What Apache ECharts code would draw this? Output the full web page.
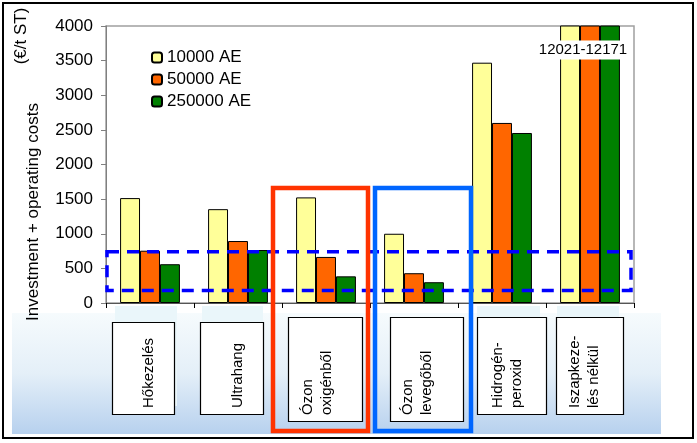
<!DOCTYPE html>
<html><head><meta charset="utf-8">
<script src="https://cdn.jsdelivr.net/npm/echarts@6/dist/echarts.min.js"></script>
<style>html,body{margin:0;padding:0;background:#fff}#c{width:697px;height:443px}</style>
</head><body><div id="c"></div>
<script>
const categories = ['Hőkezelés', 'Ultrahang', 'Ózon\noxigénből', 'Ózon\nlevegőből', 'Hidrogén-\nperoxid', 'Iszapkeze-\nlés nélkül'];
const seriesNames = ['10000 AE', '50000 AE', '250000 AE'];
const s10000 = [1515, 1355, 1525, 1000, 3470, 12171];
const s50000 = [755, 895, 665, 430, 2600, 12100];
const s250000 = [560, 765, 385, 300, 2455, 12021];
const yTicks = {min: 0, max: 4000, interval: 500};
const bandValues = [740, 180];
const offChartLabel = '12021-12171';

const FONT = 'Liberation Sans, Arial, sans-serif';
const colors = ['#FFFF99', '#FF6600', '#008000'];
const chart = echarts.init(document.getElementById('c'), null, {renderer: 'canvas'});
const mk = (name, data, i) => ({
  name, type: 'bar', data, clip: true, barGap: '0%', barCategoryGap: '32%',
  itemStyle: {color: colors[i], borderColor: '#000', borderWidth: 1},
  emphasis: {disabled: true}, z: 5
});
chart.setOption({
  animation: false,
  textStyle: {fontFamily: FONT},
  grid: {left: 106, right: 63, top: 26, bottom: 140, show: true, borderColor: '#a0a0a0', borderWidth: 1.5, containLabel: false},
  legend: {
    orient: 'vertical', left: 146, top: 44, itemWidth: 10, itemHeight: 10, itemGap: 5,
    textStyle: {fontSize: 17, color: '#000', fontFamily: FONT}, selectedMode: false,
    data: seriesNames
  },
  xAxis: {
    type: 'category', data: categories, boundaryGap: true,
    axisLine: {lineStyle: {color: '#555', width: 1}},
    axisTick: {show: true, length: 5, lineStyle: {color: '#000'}},
    axisLabel: {show: false}
  },
  yAxis: {
    type: 'value', min: yTicks.min, max: yTicks.max, interval: yTicks.interval,
    axisLine: {show: true, lineStyle: {color: '#808080'}},
    axisTick: {show: true, length: 5, lineStyle: {color: '#808080'}},
    splitLine: {show: false},
    axisLabel: {fontSize: 17, color: '#000', margin: 13, fontFamily: FONT, formatter: v => String(v)}
  },
  series: [mk(seriesNames[0], s10000, 0), mk(seriesNames[1], s50000, 1), mk(seriesNames[2], s250000, 2)]
});

function drawOverlays() {
  const els = [];
  // label box geometry relative to category centre (styling only)
  const boxOff = [-7, -6.5, -1, 12.5, 9.5, -0.5];
  const boxW = [62, 63, 74, 73, 69, 67];
  const boxTop = [322, 322, 317, 317, 317, 317];
  const boxBot = [414, 414, 421, 421, 414, 414];
  const txtOff = [-1, 0, -8.5, 3.5, 5.5, -5.5];
  const patch = [[115, 177], [202, 263], null, null, [477, 540], [557, 619]];
  // outer frame
  els.push({type: 'rect', shape: {x: 3, y: 3, width: 690, height: 435}, style: {fill: null, stroke: '#000', lineWidth: 2}, z: 1});
  // blue band behind labels
  els.push({type: 'rect', shape: {x: 12, y: 313, width: 649, height: 121},
    style: {fill: new echarts.graphic.LinearGradient(0, 0, 0, 1, [{offset: 0, color: '#f6fbfd'}, {offset: 0.5, color: '#e4eff8'}, {offset: 1, color: '#b7d1ee'}])}, z: 1});
  patch.forEach(p => {
    if (!p) return;
    els.push({type: 'rect', shape: {x: p[0], y: 306, width: p[1] - p[0], height: 100}, style: {fill: '#eaf6fa'}, z: 2});
  });
  // category label boxes
  categories.forEach((c, i) => {
    const cx = chart.convertToPixel({xAxisIndex: 0}, i);
    const w = boxW[i];
    const bx = Math.round(cx + boxOff[i] - w / 2) + 0.5;
    els.push({type: 'rect', shape: {x: bx, y: boxTop[i] + 0.5, width: w, height: boxBot[i] - boxTop[i]},
      style: {fill: '#fff', stroke: '#000', lineWidth: 1.2}, z: 10});
    els.push({type: 'text', x: cx + txtOff[i], y: boxBot[i] - 6, rotation: Math.PI / 2,
      style: {text: c, fontSize: 15, fontFamily: FONT, fill: '#000', align: 'left', verticalAlign: 'middle', lineHeight: 19}, z: 11});
  });
  // y axis titles
  els.push({type: 'text', x: 33, y: 212, rotation: Math.PI / 2,
    style: {text: 'Investment + operating costs', fontSize: 17, fontFamily: FONT, fill: '#000', align: 'center', verticalAlign: 'middle'}, z: 10});
  els.push({type: 'text', x: 21, y: 36, rotation: Math.PI / 2,
    style: {text: '(€/t ST)', fontSize: 17, fontFamily: FONT, fill: '#000', align: 'center', verticalAlign: 'middle'}, z: 10});
  // off-chart label
  const lx = chart.convertToPixel({xAxisIndex: 0}, 5);
  els.push({type: 'text', x: lx - 7, y: 50,
    style: {text: offChartLabel, fontSize: 15, fontFamily: FONT, fill: '#000', align: 'center', verticalAlign: 'middle', backgroundColor: '#fff', padding: [2, 2]}, z: 12});
  // dashed band
  const yT = chart.convertToPixel({yAxisIndex: 0}, bandValues[0]);
  const yB = chart.convertToPixel({yAxisIndex: 0}, bandValues[1]);
  els.push({type: 'rect', shape: {x: 107, y: yT, width: 524, height: yB - yT},
    style: {fill: null, stroke: '#0000ff', lineWidth: 3.5, lineDash: [12, 8]}, z: 12});
  // red and blue highlight boxes
  els.push({type: 'rect', shape: {x: 273, y: 188, width: 95, height: 243}, style: {fill: null, stroke: '#ff3300', lineWidth: 4.5}, z: 13});
  els.push({type: 'rect', shape: {x: 375, y: 188, width: 96, height: 243}, style: {fill: null, stroke: '#0066ff', lineWidth: 4.5}, z: 13});
  chart.setOption({graphic: {elements: els}});
}
drawOverlays();
</script></body></html>
